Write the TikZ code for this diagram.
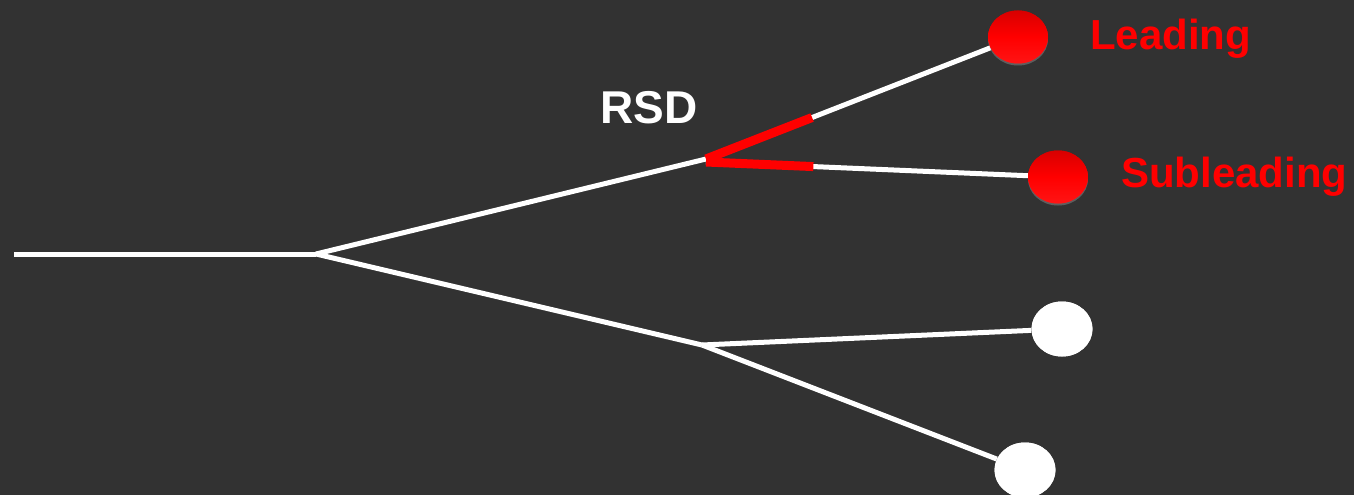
\documentclass[tikz,border=0pt]{standalone}
\usepackage{fontspec}
\setmainfont{Liberation Sans}
\usetikzlibrary{shapes.geometric,calc,shadows}
\definecolor{bgcol}{HTML}{323232}
\definecolor{hot}{HTML}{FF0000}
\tikzset{
  branch/.style={draw=white, line width=5pt},
  tagline/.style={draw=hot, line width=9pt, line cap=butt},
  redball/.style={ellipse, minimum width=60pt, minimum height=53pt, inner sep=0pt,
    top color=hot!85!black, bottom color=hot!92!white, middle color=hot,
    drop shadow={shadow xshift=0pt, shadow yshift=-2pt, opacity=0.35}},
  whiteball/.style={ellipse, minimum width=61pt, minimum height=55pt, inner sep=0pt, fill=white},
  redlabel/.style={text=hot, font=\bfseries\fontsize{42}{48}\selectfont, anchor=base west, inner sep=0pt},
}
\begin{document}
\begin{tikzpicture}[x=1pt, y=-1pt]
  \fill[bgcol] (0,0) rectangle (1354,495);
  \useasboundingbox (0,0) rectangle (1354,495);

  % tree vertices
  \coordinate (root) at (14,254);
  \coordinate (split) at (316,254);
  \coordinate (rsd) at (706,159);
  \coordinate (rsdlow) at (706,162);
  \coordinate (low) at (702,345);

  % final particles
  \node[redball] (lead) at (1018,37) {};
  \node[redball] (sub) at (1058,177) {};
  \node[whiteball] (w1) at (1062,329) {};
  \node[whiteball] (w2) at (1025,470) {};

  % branches
  \draw[branch] (root) -- (split);
  \draw[branch] (split) -- (rsd);
  \draw[branch] (split) -- (low);
  \draw[branch] (rsd) -- (lead);
  \draw[branch] (rsdlow) -- (sub);
  \draw[branch] (low) -- (w1);
  \draw[branch] (low) -- (w2);

  % highlighted opening angle
  \draw[tagline] (rsd) -- ($(rsd)!0.34!(lead)$);
  \draw[tagline] (rsdlow) -- ($(rsdlow)!0.305!(sub)$);

  % balls drawn over the line ends
  \node[redball] at (lead) {};
  \node[redball] at (sub) {};
  \node[whiteball] at (w1) {};
  \node[whiteball] at (w2) {};

  % labels
  \node[text=white, font=\bfseries\fontsize{46}{52}\selectfont, anchor=base, inner sep=0pt] (rsdlabel) at (649,123) {RSD};
  \node[redlabel] (leadlabel) at (1090,50) {Leading};
  \node[redlabel] (sublabel) at (1121,187) {Subleading};
\end{tikzpicture}
\end{document}
